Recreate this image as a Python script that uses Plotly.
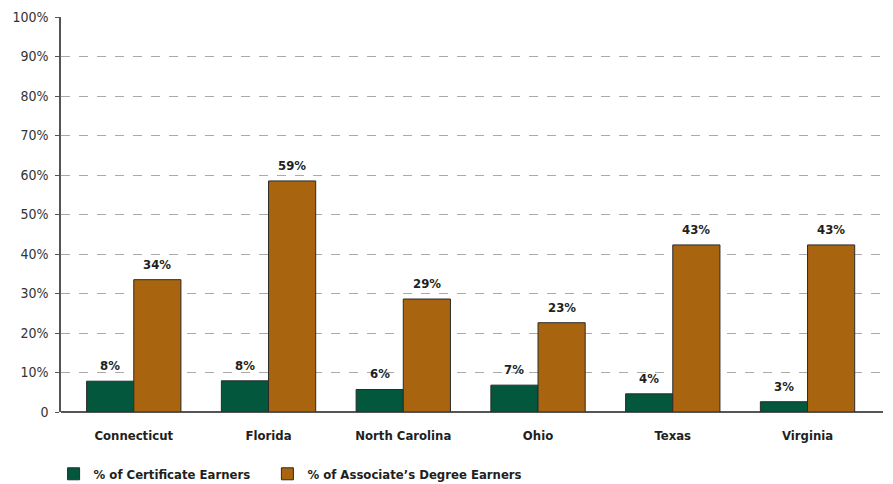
import plotly.graph_objects as go

states = ['Connecticut', 'Florida', 'North Carolina', 'Ohio', 'Texas', 'Virginia']
cert_vals = [7.8, 7.9, 5.7, 6.8, 4.6, 2.6]
assoc_vals = [33.5, 58.5, 28.6, 22.6, 42.3, 42.3]
cert_labels = ['8%', '8%', '6%', '7%', '4%', '3%']
assoc_labels = ['34%', '59%', '29%', '23%', '43%', '43%']
y_ticks = list(range(0, 101, 10))
y_tick_text = ['0'] + [f'{v}%' for v in y_ticks[1:]]

FONT = 'DejaVu Sans Condensed, Roboto, sans-serif'
label_font = dict(family=FONT, size=13, color='#231f20', weight='bold')
BARGAP = 0.3
half = (1 - BARGAP) / 4  # centre offset of each bar in a group

fig = go.Figure()
fig.add_trace(go.Bar(
    name='% of Certificate Earners\u00a0\u00a0\u00a0',
    x=states, y=cert_vals,
    marker=dict(color='#02573c', line=dict(color='#2b2b2b', width=1))
))
fig.add_trace(go.Bar(
    name='% of Associate’s Degree Earners',
    x=states, y=assoc_vals,
    marker=dict(color='#a8640e', line=dict(color='#2b2b2b', width=1))
))

# value labels above the bars
for i in range(len(states)):
    for off, vals, labels in ((-half, cert_vals, cert_labels), (half, assoc_vals, assoc_labels)):
        fig.add_annotation(
            x=i + off, y=vals[i], text=labels[i], showarrow=False,
            yanchor='bottom', yshift=6, font=label_font
        )

fig.update_layout(
    width=893, height=484,
    barmode='group', bargap=BARGAP, bargroupgap=0,
    plot_bgcolor='white', paper_bgcolor='white',
    margin=dict(l=61, r=10, t=17, b=72),
    font=dict(family=FONT, color='#231f20'),
    xaxis=dict(
        range=[-0.54, 5.56], automargin=False,
        showline=False, ticks='', ticklabelstandoff=14,
        tickfont=dict(family=FONT, size=13, color='#231f20', weight='bold'),
        showgrid=False
    ),
    yaxis=dict(
        range=[0, 100], tickvals=y_ticks, ticktext=y_tick_text, automargin=False,
        showline=True, linecolor='#555555', linewidth=1.5,
        ticks='outside', ticklen=4, tickcolor='#555555', ticklabelstandoff=4,
        tickfont=dict(family=FONT, size=14, color='#333333'),
        showgrid=True, gridcolor='#aaaaaa', griddash='dash', gridwidth=1,
        zeroline=True, zerolinecolor='#555555', zerolinewidth=1.5
    ),
    legend=dict(
        orientation='h', xref='container', yref='container', x=0.06, y=0.021,
        xanchor='left', yanchor='middle',
        font=dict(family=FONT, size=13, color='#231f20', weight='bold'),
        itemwidth=30, traceorder='normal'
    )
)

fig.write_html('out.html', config={'displayModeBar': False},
               post_script="document.body.style.margin='0';")
